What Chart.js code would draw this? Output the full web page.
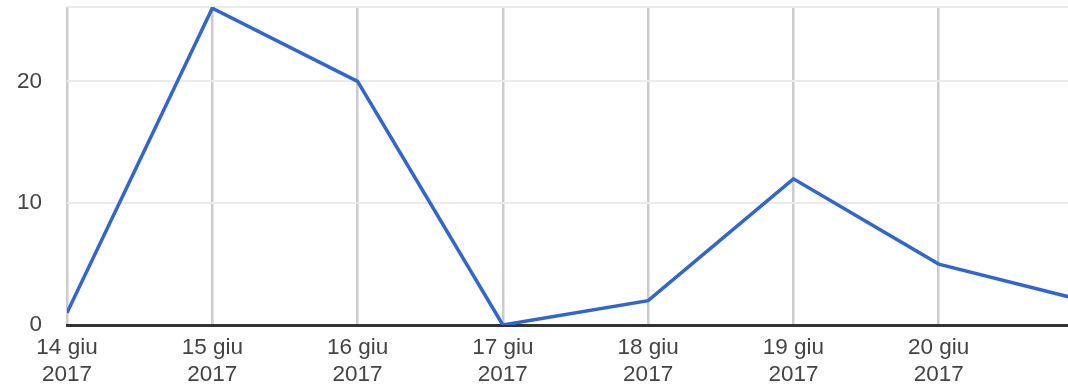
<!DOCTYPE html>
<html>
<head>
<meta charset="utf-8">
<script src="https://cdn.jsdelivr.net/npm/chart.js@4"></script>
<style>
  html, body { margin: 0; padding: 0; background: #fff; }
  #wrap { width: 1068px; height: 388px; }
</style>
</head>
<body>
<div id="wrap"><canvas id="chart" width="1068" height="388"></canvas></div>
<script>
// Giorni e valori giornalieri
const dayLabels = ['14 giu', '15 giu', '16 giu', '17 giu', '18 giu', '19 giu', '20 giu', '21 giu'];
const yearLabel = '2017';
const values = [1, 26, 20, 0, 2, 12, 5, 2];
const yTicks = [0, 10, 20];

const FONT = 'Arial, "Liberation Sans", sans-serif';
const points = values.map((v, i) => ({ x: i, y: v }));

const ctx = document.getElementById('chart').getContext('2d');
new Chart(ctx, {
  type: 'line',
  data: {
    datasets: [{
      data: points,
      borderColor: '#3366cc',
      borderWidth: 3.5,
      pointRadius: 0,
      tension: 0,
      fill: false
    }]
  },
  options: {
    responsive: false,
    animation: false,
    layout: { padding: { top: 7, right: 0, bottom: 0, left: 0 } },
    plugins: { legend: { display: false }, tooltip: { enabled: false } },
    scales: {
      x: {
        type: 'linear',
        min: 0,
        max: 6.89,
        afterBuildTicks: scale => {
          scale.ticks = scale.ticks.filter(t => Number.isInteger(t.value) && t.value < dayLabels.length);
        },
        afterFit: scale => {
          scale.height = 63;
          scale.paddingLeft = 0;
          scale.paddingRight = 0;
        },
        border: { display: true, color: '#333', width: 3 },
        grid: { color: '#cccccc', lineWidth: 2.5, drawTicks: false },
        ticks: {
          stepSize: 1,
          padding: 9,
          maxRotation: 0,
          autoSkip: false,
          color: '#444',
          font: { family: FONT, size: 22.5, lineHeight: 1.2 },
          callback: v => [dayLabels[v], yearLabel]
        }
      },
      y: {
        min: 0,
        max: 26.1,
        afterBuildTicks: scale => {
          scale.ticks = yTicks.map(v => ({ value: v })).concat([{ value: 26.1 }]);
        },
        afterFit: scale => {
          scale.width = 67;
          scale.paddingTop = 0;
          scale.paddingBottom = 0;
        },
        border: { display: false },
        grid: {
          color: c => (c.tick && c.tick.value === 0) ? 'rgba(0,0,0,0)' : '#ebebeb',
          lineWidth: 2,
          drawTicks: false
        },
        ticks: {
          padding: 25,
          color: '#444',
          font: { family: FONT, size: 22.5 },
          callback: v => yTicks.includes(v) ? String(v) : ''
        }
      }
    }
  }
});
</script>
</body>
</html>
